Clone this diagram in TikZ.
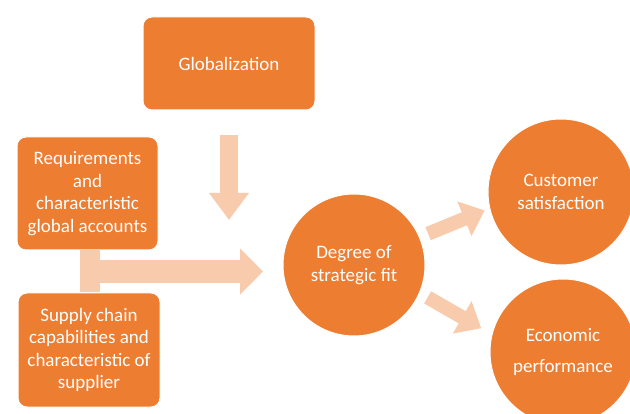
\documentclass[tikz,border=0pt]{standalone}
\usepackage{fontspec}
\setmainfont{Carlito}
\usetikzlibrary{arrows.meta,calc}
\definecolor{boxorange}{HTML}{ED7D31}
\definecolor{peach}{HTML}{F8CBAD}

\begin{document}
\begin{tikzpicture}[x=1pt,y=1pt,
  card/.style={rectangle, rounded corners=9pt, fill=boxorange, draw=white,
    line width=1pt, text=white, align=center, inner sep=0pt,
    font=\fontsize{19}{22.5}\selectfont},
  disc/.style={circle, fill=boxorange, draw=white, line width=1pt,
    text=white, align=center, inner sep=0pt, minimum size=146pt,
    font=\fontsize{19}{22.5}\selectfont},
  blk/.style={draw=peach, line cap=butt}]

% canvas
\fill[white] (0,0) rectangle (630,413);
\useasboundingbox (0,0) rectangle (630,413);

% boxes and circles
\node[card, minimum width=172pt, minimum height=93pt] (glob) at (229,349.5) {Globalization};
\node[card, minimum width=141pt, minimum height=113pt] (req) at (87.5,219.5)
  {Requirements\\and\\characteristic\\global accounts};
\node[card, minimum width=142pt, minimum height=114pt] (sup) at (89,63)
  {Supply chain\\capabilities and\\characteristic of\\supplier};
\node[disc, minimum size=142pt] (deg) at (354,148) {Degree of\\strategic fit};
\node[disc] (cust) at (561,221) {Customer\\satisfaction};
\node[disc] (econ) at (563,61) {Economic\\[8pt]performance};

% block arrows
\coordinate (gtip) at (229,193);
\draw[blk, line width=18pt, -{Triangle[width=38pt,length=27pt]}]
  ([yshift=-25pt]glob.south) -- (gtip);

\coordinate (jn) at (90,141.5);
\coordinate (htip) at (263,141.5);
\draw[blk, line width=20pt] (req.south -| jn) -- (sup.north -| jn);
\draw[blk, line width=23pt, -{Triangle[width=45pt,length=23pt]}]
  ([xshift=-10pt]jn) -- (htip);

\draw[blk, line width=14pt, -{Triangle[width=36pt,length=22pt]},
  shorten <=9pt, shorten >=5pt] (deg.23) -- (cust.193);
\draw[blk, line width=14pt, -{Triangle[width=36pt,length=22pt]},
  shorten <=9pt, shorten >=12pt] (deg.-23) -- (econ.166);
\end{tikzpicture}
\end{document}
